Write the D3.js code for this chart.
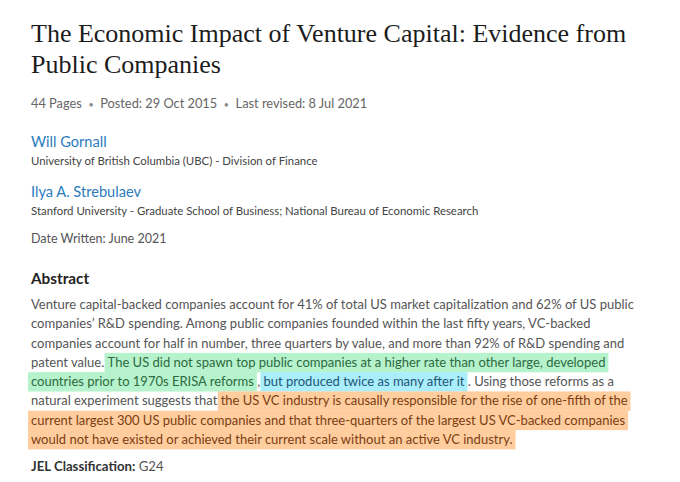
<!DOCTYPE html>
<html>
<head>
<meta charset="utf-8">
<script src="https://cdn.jsdelivr.net/npm/d3@7"></script>
<style>
  body { margin: 0; background: #fff; }
  svg { display: block; }
</style>
</head>
<body>
<div id="page"></div>
<script>
var titleLines = ['The Economic Impact of Venture Capital: Evidence from', 'Public Companies'];
var metaItems = ['44 Pages', 'Posted: 29 Oct 2015', 'Last revised: 8 Jul 2021'];
var authors = ['Will Gornall', 'Ilya A. Strebulaev'];
var affiliations = [
  'University of British Columbia (UBC) - Division of Finance',
  'Stanford University - Graduate School of Business; National Bureau of Economic Research'
];
var dateWritten = 'Date Written: June 2021';
var abstractHeading = 'Abstract';
// each line of the abstract: [text, highlight]
var abstractLines = [
  [['Venture capital-backed companies account for 41% of total US market capitalization and 62% of US public', null]],
  [['companies\u2019 R&D spending. Among public companies founded within the last fifty years, VC-backed', null]],
  [['companies account for half in number, three quarters by value, and more than 92% of R&D spending and', null]],
  [['patent value. ', null], ['The US did not spawn top public companies at a higher rate than other large, developed', 'green']],
  [['countries prior to 1970s ERISA reforms', 'green'], [' , ', null], ['but produced twice as many after it', 'blue'], [' . Using those reforms as a', null]],
  [['natural experiment suggests that ', null], ['the US VC industry is causally responsible for the rise of one-fifth of the', 'orange']],
  [['current largest 300 US public companies and that three-quarters of the largest US VC-backed companies', 'orange']],
  [['would not have existed or achieved their current scale without an active VC industry.', 'orange']]
];
var jelLabel = 'JEL Classification:';
var jelCodes = 'G24';

var w = 680, h = 482, left = 31;
var body = 'Lato, "Open Sans", sans-serif';

var hlFill = { green: '#b6f2cc', blue: '#a9eefa', orange: '#ffcd9e' };
var hlText = { green: '#2d6a3f', blue: '#235577', orange: '#7b3d12' };

var svg = d3.select('#page').append('svg')
    .attr('width', w)
    .attr('height', h);

// title
svg.selectAll('.title')
    .data(titleLines)
    .enter()
    .append('text')
    .attr('class', 'title')
    .attr('x', left)
    .attr('y', function(d, i) { return 42 + i*31; })
    .style('font-family', '"Liberation Serif", serif')
    .style('font-size', '26px')
    .style('fill', '#1c1c1c')
    .text(function(d) { return d; });

// meta line with bullets
var meta = svg.append('text')
    .attr('x', left)
    .attr('y', 108)
    .attr('xml:space', 'preserve')
    .style('font-family', body)
    .style('font-size', '12.8px')
    .style('fill', '#666');
metaItems.forEach(function(m, i) {
  if(i > 0) {
    meta.append('tspan').text('  ');
    meta.append('tspan').style('font-size', '9px').style('fill', '#888').text('\u2022');
    meta.append('tspan').text('  ');
  }
  meta.append('tspan').text(m);
});

// authors
var ay = [147, 197];
authors.forEach(function(a, i) {
  svg.append('text')
      .attr('x', left)
      .attr('y', ay[i])
      .style('font-family', body)
      .style('font-size', '14.6px')
      .style('fill', '#2b7bbd')
      .text(a);
  svg.append('text')
      .attr('x', left)
      .attr('y', ay[i] + 18)
      .style('font-family', body)
      .style('font-size', '11.4px')
      .style('fill', '#444')
      .text(affiliations[i]);
});

svg.append('text')
    .attr('x', left)
    .attr('y', 243)
    .style('font-family', body)
    .style('font-size', '12.5px')
    .style('fill', '#555')
    .text(dateWritten);

svg.append('text')
    .attr('x', left)
    .attr('y', 284)
    .style('font-family', body)
    .style('font-size', '15.3px')
    .style('font-weight', 'bold')
    .style('fill', '#222')
    .text(abstractHeading);

// abstract body
var y = d3.scaleLinear().domain([0, abstractLines.length - 1]).range([309, 444]);
var hlLayer = svg.append('g');
var txLayer = svg.append('g');

abstractLines.forEach(function(line, li) {
  var x = left;
  line.forEach(function(seg) {
    var t = txLayer.append('text')
        .attr('x', x)
        .attr('y', y(li))
        .attr('xml:space', 'preserve')
        .style('font-family', body)
        .style('font-size', '13px')
        .style('fill', seg[1] ? hlText[seg[1]] : '#555')
        .text(seg[0]);
    var tw = t.node().getComputedTextLength();
    if(seg[1]) {
      hlLayer.append('rect')
          .attr('x', x - 3)
          .attr('y', y(li) - 14)
          .attr('width', tw + 6)
          .attr('height', 19.4)
          .attr('fill', hlFill[seg[1]]);
    }
    x += tw;
  });
});

var jel = svg.append('text')
    .attr('x', left)
    .attr('y', 471)
    .attr('xml:space', 'preserve')
    .style('font-family', body)
    .style('font-size', '13.2px')
    .style('fill', '#555');
jel.append('tspan').style('font-weight', 'bold').style('fill', '#333').text(jelLabel);
jel.append('tspan').text(' ' + jelCodes);
</script>
</body>
</html>
